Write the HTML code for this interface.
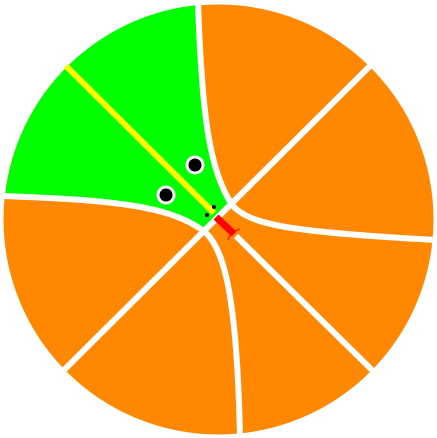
<!DOCTYPE html>
<html><head><meta charset="utf-8"><style>html,body{margin:0;padding:0;background:#fff;width:437px;height:438px;overflow:hidden}</style></head>
<body>
<svg width="437" height="438" viewBox="0 0 437 438">
<circle cx="218.5" cy="219.5" r="215" fill="#ff8800"/>
<path d="M5,196 A215,215 0 0 1 198,5 C202,120 210,170 232,205 L205,232 C170,205 110,200 5,196 Z" fill="#00ff00"/>
<g stroke="#fff" stroke-width="6" fill="none">
<path d="M198,2 C202,120 210,170 232,205"/>
<path d="M205,232 C225,250 237,300 240,437"/>
<path d="M2,196 C110,200 170,205 205,232"/>
<path d="M232,205 C250,225 290,232 436,240"/>
<line x1="372" y1="64" x2="64" y2="370"/>
<line x1="236" y1="236" x2="372" y2="370"/>
</g>
<line x1="66" y1="66" x2="214" y2="213" stroke="#ffff00" stroke-width="6"/>
<line x1="216" y1="217" x2="234" y2="234" stroke="#ff0000" stroke-width="7"/>
<path d="M232,232 L240,229 M232,232 L228,240" stroke="#ff0000" stroke-width="1.2" fill="none"/>
<circle cx="195" cy="165" r="9.5" fill="#fff"/>
<circle cx="195" cy="165" r="6.5" fill="#000"/>
<circle cx="166" cy="195" r="9.5" fill="#fff"/>
<circle cx="166" cy="195" r="6.5" fill="#000"/>
<circle cx="214" cy="207" r="2" fill="#000"/>
<circle cx="207" cy="215" r="2" fill="#000"/>
</svg>
</body></html>
